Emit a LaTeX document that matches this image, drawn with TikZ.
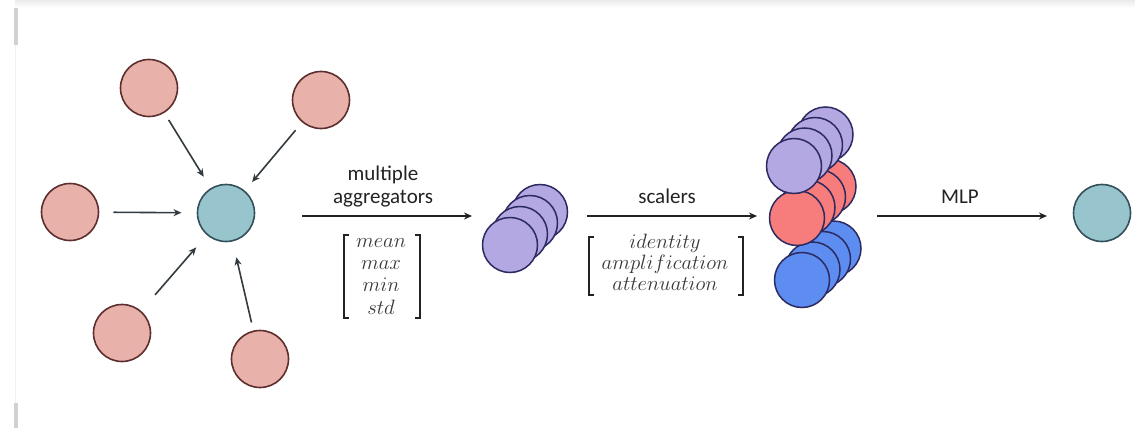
\documentclass[tikz,border=0pt]{standalone}
\usepackage{fontspec}
\usepackage{graphicx}
\newfontfamily\labelfont{Carlito}
\usetikzlibrary{arrows.meta}

\definecolor{pinkfill}{HTML}{E8B2AA}
\definecolor{pinkline}{HTML}{5E2E2E}
\definecolor{tealfill}{HTML}{98C4CE}
\definecolor{tealline}{HTML}{34505A}
\definecolor{purplefill}{HTML}{B3A8E2}
\definecolor{redfill}{HTML}{F77C7C}
\definecolor{bluefill}{HTML}{5D8DF0}
\definecolor{stackline}{HTML}{2C2A60}
\definecolor{ink}{HTML}{222222}
\definecolor{edgeink}{HTML}{333B40}

\begin{document}
\begin{tikzpicture}[x=1pt,y=-1pt,
  vert/.style={circle, minimum size=57pt, inner sep=0pt, outer sep=0pt, line width=1.6pt},
  nbr/.style={vert, fill=pinkfill, draw=pinkline},
  ctr/.style={vert, fill=tealfill, draw=tealline},
  disc/.style={circle, minimum size=55pt, inner sep=0pt, outer sep=0pt, line width=1.5pt, draw=stackline},
  msg/.style={draw=edgeink, line width=1.6pt, -{Stealth[length=8pt,width=7pt]}},
  stage/.style={draw=ink, line width=2pt, -{Stealth[length=8pt,width=7pt]}},
  lab/.style={font=\labelfont\fontsize{21}{24}\selectfont, text=ink, anchor=base, inner sep=0pt},
  entry/.style={font=\fontsize{20}{22}\selectfont, text=ink!90, anchor=base, inner sep=0pt},
  brk/.style={draw=ink, line width=1.3pt}
]
\useasboundingbox (0,0) rectangle (1135,428);
\fill[white] (0,0) rectangle (1135,428);

% frame remnants along the top and left edges
\shade[top color=black!8, bottom color=white] (15,0) rectangle (1135,8);
\fill[black!18] (14,8) rectangle (18,45);
\fill[black!18] (14,403) rectangle (18,428);
\draw[black!6, line width=1pt] (15,45) -- (15,403);

% neighbourhood of the node being updated
\node[ctr] (c) at (226,213) {};
\node[nbr] (n1) at (149,88) {};
\node[nbr] (n2) at (321,100) {};
\node[nbr] (n3) at (70,212) {};
\node[nbr] (n4) at (122,333) {};
\node[nbr] (n5) at (260,359) {};

\draw[msg, shorten <=9pt, shorten >=14pt] (n1) -- (c);
\draw[msg, shorten <=11pt, shorten >=12pt] (n2) -- (c);
\draw[msg, shorten <=15pt, shorten >=16pt] (n3) -- (c);
\draw[msg, shorten <=22pt, shorten >=17pt] (n4) -- (c);
\draw[msg, shorten <=9pt, shorten >=17pt] (n5) -- (c);

% stage 1: aggregation
\coordinate (a1s) at (302,216);
\coordinate (a1e) at (472,216);
\draw[stage] (a1s) -- (a1e);
\node[lab] (t1a) at (383,180) {multiple};
\node[lab] (t1b) at (383,203) {aggregators};
\node[entry] (e1) at (381,247) {$mean$};
\node[entry] (e2) at (381,269) {$max$};
\node[entry] (e3) at (381,291) {$min$};
\node[entry] (e4) at (381,314) {$std$};
\draw[brk] (349,235) -- (344,235) -- (344,318) -- (349,318);
\draw[brk] (415,235) -- (420,235) -- (420,318) -- (415,318);

% aggregated features
\foreach \i in {3,2,1,0}
  \node[disc, fill=purplefill] (agg\i) at ({510+10*\i},{245-11*\i}) {};

% stage 2: scaling
\coordinate (a2s) at (587,216);
\coordinate (a2e) at (757,216);
\draw[stage] (a2s) -- (a2e);
\node[lab] (t2) at (667,203) {scalers};
\node[entry] (s1) at (665,248) {$identity$};
\node[entry] (s2) at (665,269) {$amplification$};
\node[entry] (s3) at (665,290) {$attenuation$};
\draw[brk] (594,237) -- (589,237) -- (589,295) -- (594,295);
\draw[brk] (738,237) -- (743,237) -- (743,295) -- (738,295);

% scaled features
\foreach \i in {3,2,1,0}
  \node[disc, fill=bluefill] (sb\i) at ({802+10.5*\i},{280-10.5*\i}) {};
\foreach \i in {3,2,1,0}
  \node[disc, fill=redfill] (sr\i) at ({797+10.5*\i},{218-10.5*\i}) {};
\foreach \i in {3,2,1,0}
  \node[disc, fill=purplefill] (sp\i) at ({794+10.5*\i},{166-10.5*\i}) {};

% stage 3: MLP
\coordinate (a3s) at (877,216);
\coordinate (a3e) at (1047,216);
\draw[stage] (a3s) -- (a3e);
\node[lab] (t3) at (960,203) {MLP};

\node[ctr] (out) at (1102,213) {};
\end{tikzpicture}
\end{document}
